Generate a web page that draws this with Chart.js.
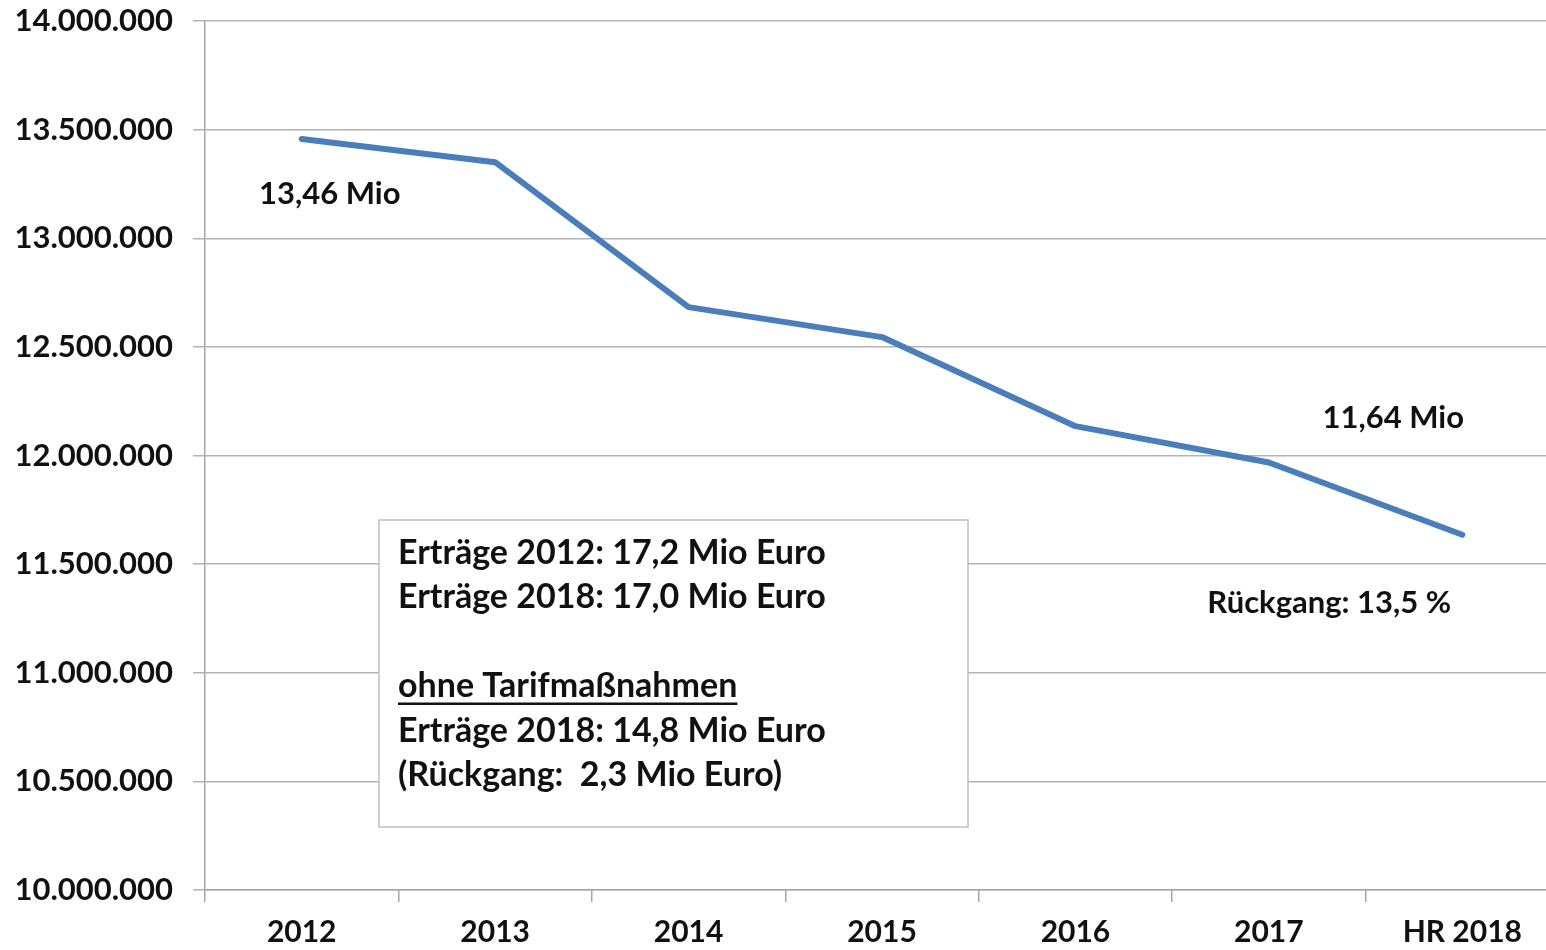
<!DOCTYPE html>
<html>
<head>
<meta charset="utf-8">
<script src="https://cdn.jsdelivr.net/npm/chart.js@4/dist/chart.umd.min.js"></script>
<style>
  html, body { margin: 0; padding: 0; background: #fff; overflow: hidden; }
  #wrap { width: 1560px; height: 950px; }
</style>
</head>
<body>
<div id="wrap"><canvas id="chart"></canvas></div>
<script>
// Daten
const years = ['2012', '2013', '2014', '2015', '2016', '2017', 'HR 2018'];
const values = [13457000, 13350000, 12683000, 12545000, 12135000, 11968000, 11635000];
const yTicks = [10000000, 10500000, 11000000, 11500000, 12000000, 12500000, 13000000, 13500000, 14000000];

const boxLines = [
  'Erträge 2012: 17,2 Mio Euro',
  'Erträge 2018: 17,0 Mio Euro',
  '',
  'ohne Tarifmaßnahmen',
  'Erträge 2018: 14,8 Mio Euro',
  '(Rückgang:  2,3 Mio Euro)'
];

const FONT = 'Lato, "Open Sans", sans-serif';

function fmt(v){
  return v.toString().replace(/\B(?=(\d{3})+(?!\d))/g, '.');
}

// Beschriftungen und Textkasten
const notes = {
  id: 'notes',
  afterDatasetsDraw(chart){
    const ctx = chart.ctx;
    const x = chart.scales.x, y = chart.scales.y;
    ctx.save();
    ctx.fillStyle = '#111';
    ctx.font = 'bold 31px ' + FONT;
    ctx.textAlign = 'center';
    ctx.textBaseline = 'middle';
    ctx.fillText('13,46 Mio', x.getPixelForValue(0) + 28, y.getPixelForValue(13204000));
    ctx.fillText('11,64 Mio', x.getPixelForValue(6) - 69, y.getPixelForValue(12171000));
    ctx.fillText('Rückgang: 13,5 %', x.getPixelForValue(6) - 133, y.getPixelForValue(11321000));

    // Kasten
    const bx = 379, by = 520, bw = 589, bh = 307;
    ctx.fillStyle = '#fff';
    ctx.fillRect(bx, by, bw, bh);
    ctx.strokeStyle = '#c0c0c0';
    ctx.lineWidth = 1.5;
    ctx.strokeRect(bx, by, bw, bh);

    ctx.fillStyle = '#111';
    ctx.font = 'bold 34px ' + FONT;
    ctx.textAlign = 'left';
    let ty = 553;
    boxLines.forEach((t, i) => {
      if (t) ctx.fillText(t, 398, ty);
      if (i === 3) {
        const w = ctx.measureText(t).width;
        ctx.fillRect(398, ty + 16, w, 2.5);
      }
      ty += 44.5;
    });
    ctx.restore();
  }
};

const ctx = document.getElementById('chart').getContext('2d');
new Chart(ctx, {
  type: 'line',
  data: {
    labels: years,
    datasets: [{
      data: values,
      borderColor: '#4a7ebb',
      borderWidth: 6,
      pointRadius: 0,
      fill: false,
      tension: 0,
      borderCapStyle: 'round',
      borderJoinStyle: 'round'
    }]
  },
  options: {
    responsive: true,
    maintainAspectRatio: false,
    animation: false,
    layout: { padding: { top: 21, right: 1, left: 0, bottom: 0 } },
    plugins: { legend: { display: false }, tooltip: { enabled: false } },
    scales: {
      x: {
        offset: true,
        grid: {
          offset: true,
          drawOnChartArea: false,
          drawTicks: true,
          tickLength: 12,
          color: '#a6a6a6',
          lineWidth: 1.5
        },
        border: { color: '#a6a6a6', width: 1.5 },
        ticks: {
          color: '#111',
          font: { family: FONT, size: 30, weight: 'bold' },
          padding: 12,
          maxRotation: 0
        },
        afterFit(s){ s.height = 60; s.paddingLeft = 0; s.paddingRight = 0; }
      },
      y: {
        min: 10000000,
        max: 14000000,
        afterBuildTicks(s){ s.ticks = yTicks.map(v => ({ value: v })); },
        grid: {
          color: '#b3b3b3',
          lineWidth: 1.5,
          tickLength: 12
        },
        border: { color: '#a6a6a6', width: 1.5 },
        ticks: {
          color: '#111',
          font: { family: FONT, size: 31, weight: 'bold' },
          padding: 20,
          callback: v => fmt(v)
        },
        afterFit(s){ s.width = 205; s.paddingTop = 0; s.paddingBottom = 0; }
      }
    }
  },
  plugins: [notes]
});
</script>
</body>
</html>
